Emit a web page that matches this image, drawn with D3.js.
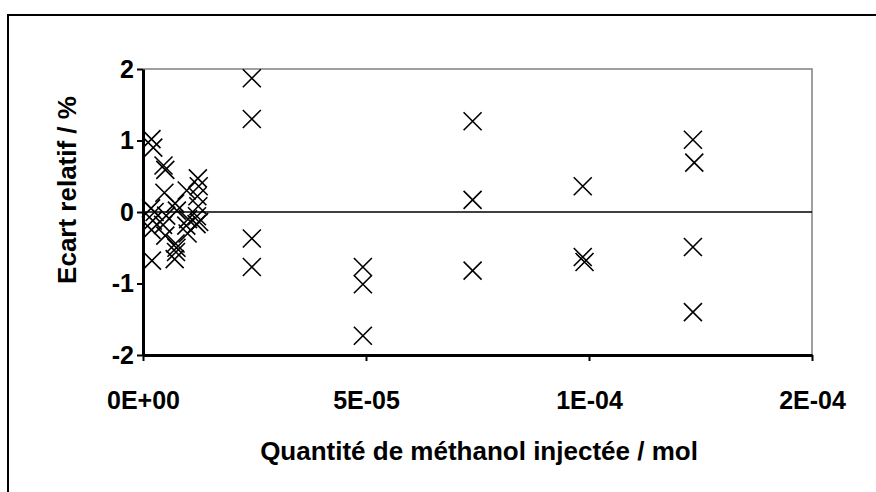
<!DOCTYPE html>
<html><head><meta charset="utf-8">
<script src="https://cdn.jsdelivr.net/npm/d3@7/dist/d3.min.js"></script>
<style>body{margin:0;background:#fff}svg{display:block}text{font-family:"Liberation Sans",Arial,sans-serif;font-weight:bold;fill:#000}</style>
</head><body><svg id="c" width="876" height="492"></svg>
<script>
// Quantité de méthanol injectée (mol)
const xValues = [
  1.9e-6, 2.3e-6, 1.8e-6, 2.6e-6, 2.2e-6, 1.9e-6, 2.0e-6,
  4.6e-6, 5.0e-6, 4.8e-6, 5.2e-6, 4.5e-6, 5.0e-6,
  7.2e-6, 7.6e-6, 7.3e-6, 7.5e-6, 7.4e-6, 7.1e-6,
  9.8e-6, 10.1e-6, 9.7e-6, 10.0e-6,
  12.3e-6, 12.5e-6, 12.2e-6, 12.4e-6, 12.1e-6, 12.6e-6, 12.0e-6,
  2.44e-5, 2.44e-5, 2.44e-5, 2.44e-5,
  4.93e-5, 4.93e-5, 4.93e-5,
  7.39e-5, 7.39e-5, 7.39e-5,
  9.86e-5, 9.86e-5, 9.90e-5,
  1.233e-4, 1.236e-4, 1.233e-4, 1.233e-4
];
// Ecart relatif (%)
const yValues = [
  1.02, 0.90, 0.05, 0.00, -0.12, -0.25, -0.68,
  0.65, 0.59, 0.27, -0.05, -0.18, -0.33,
  0.12, 0.02, -0.44, -0.50, -0.56, -0.66,
  0.30, -0.10, -0.19, -0.30,
  0.47, 0.36, 0.22, 0.08, -0.06, -0.14, -0.17,
  1.87, 1.30, -0.37, -0.77,
  -0.77, -1.01, -1.73,
  1.27, 0.17, -0.82,
  0.36, -0.63, -0.70,
  1.01, 0.69, -0.49, -1.40
];
const xTickValues = [0, 5e-5, 1e-4, 1.5e-4];
const xTickLabels = ["0E+00", "5E-05", "1E-04", "2E-04"];
const yTickValues = [-2, -1, 0, 1, 2];
const xTitle = "Quantité de méthanol injectée / mol";
const yTitle = "Ecart relatif / %";

const svg = d3.select("#c");
// chart area border
svg.append("rect").attr("x", 8).attr("y", 15).attr("width", 900).attr("height", 520)
  .attr("fill", "#fff").attr("stroke", "#000").attr("stroke-width", 2);

const L = 143, R = 812, T = 69, B = 355;
const x = d3.scaleLinear().domain([0, 1.5e-4]).range([L, R]);
const y = d3.scaleLinear().domain([-2, 2]).range([B, T]);

// plot area frame (top/right gray)
svg.append("path").attr("d", `M${L},${T}H${R}V${B}`).attr("fill", "none")
  .attr("stroke", "#808080").attr("stroke-width", 1.5);

// zero line
svg.append("line").attr("x1", L).attr("x2", R).attr("y1", y(0)).attr("y2", y(0))
  .attr("stroke", "#000").attr("stroke-width", 1.5);

// axes
const xAxis = d3.axisBottom(x).tickValues(xTickValues)
  .tickFormat((d, i) => xTickLabels[i]).tickSizeOuter(0).tickSizeInner(6).tickPadding(30);
const gx = svg.append("g").attr("transform", `translate(0,${B})`).call(xAxis);
gx.select(".domain").attr("stroke", "#000").attr("stroke-width", 3);
gx.selectAll(".tick line").attr("stroke", "#000").attr("stroke-width", 2);
gx.selectAll(".tick text").attr("font-size", 25).attr("font-family", null);

const yAxis = d3.axisLeft(y).tickValues(yTickValues).tickFormat(d3.format("d"))
  .tickSizeOuter(0).tickSizeInner(6).tickPadding(3);
const gy = svg.append("g").attr("transform", `translate(${L},0)`).call(yAxis);
gy.select(".domain").attr("stroke", "#000").attr("stroke-width", 3);
gy.selectAll(".tick line").attr("stroke", "#000").attr("stroke-width", 2);
gy.selectAll(".tick text").attr("font-size", 25).attr("font-family", null)
  .text(d => d < 0 ? "-" + Math.abs(d) : d);

// titles
svg.append("text").attr("x", 479).attr("y", 460).attr("text-anchor", "middle")
  .attr("font-size", 26).text(xTitle);
svg.append("text").attr("transform", `translate(76,190) rotate(-90)`).attr("text-anchor", "middle")
  .attr("font-size", 26).text(yTitle);

// markers
const pts = xValues.map((v, i) => [v, yValues[i]]);
svg.append("g").selectAll("path").data(pts).join("path")
  .attr("transform", d => `translate(${x(d[0])},${y(d[1])})`)
  .attr("d", "M-9,-9L9,9M-9,9L9,-9")
  .attr("fill", "none").attr("stroke", "#000").attr("stroke-width", 1.6);
</script></body></html>
